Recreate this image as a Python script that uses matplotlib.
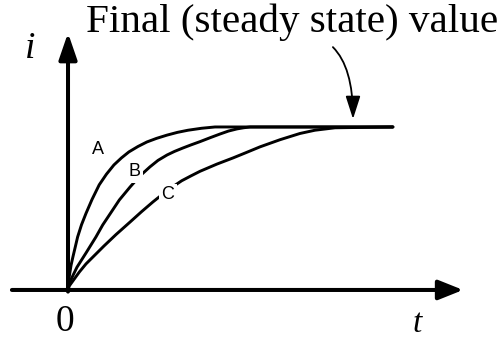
import numpy as np
import matplotlib.pyplot as plt

# curve A (fastest), B, C (slowest): time vs current
t_a = [0, 0.04, 0.1, 0.16, 0.25, 0.32, 0.45, 0.6, 0.8, 1.04, 1.28, 1.53, 1.78, 2.03,
       2.33, 2.63, 2.95, 3.3, 3.65, 4.0, 4.45, 4.9, 10.83]
i_a = [0, 0.08, 0.15, 0.20, 0.27, 0.325, 0.40, 0.47, 0.555, 0.645, 0.71, 0.767, 0.81, 0.847,
       0.88, 0.908, 0.93, 0.95, 0.967, 0.98, 0.992, 1.0, 1.0]

t_b = [0, 0.043, 0.3, 0.6, 0.93, 1.157, 1.45, 1.71, 2.07, 2.4, 2.73, 3.0, 3.3, 3.55, 3.83,
       4.1, 4.4, 4.75, 5.07, 5.35, 5.63, 5.85, 6.07, 10.83]
i_b = [0, 0.043, 0.14, 0.227, 0.325, 0.399, 0.48, 0.552, 0.632, 0.70, 0.755, 0.795, 0.828, 0.85, 0.871,
       0.89, 0.91, 0.935, 0.957, 0.975, 0.988, 0.995, 1.0, 1.0]

t_c = [0, 0.043, 0.2, 0.377, 0.6, 0.9, 1.2, 1.6, 2.07, 2.45, 2.83, 3.0, 3.4, 3.79, 4.1, 4.4,
       4.96, 5.5, 5.9, 6.4, 7.07, 7.73, 8.23, 8.9, 10.83]
i_c = [0, 0.025, 0.065, 0.11, 0.16, 0.215, 0.27, 0.34, 0.417, 0.48, 0.54, 0.565, 0.622, 0.67, 0.70, 0.728,
       0.772, 0.81, 0.84, 0.878, 0.922, 0.96, 0.98, 0.995, 1.0]

labels = ['A', 'B', 'C']
label_pos = [(1.0, 0.859), (2.23, 0.724), (3.33, 0.583)]

fig = plt.figure(figsize=(5, 3.4), dpi=100)
ax = fig.add_axes([0, 0, 1, 1])
ax.set_xlim(-2.267, 14.4)
ax.set_ylim(-0.307, 1.779)
ax.axis('off')

for t, i in [(t_a, i_a), (t_b, i_b), (t_c, i_c)]:
    ax.plot(t, i, color='black', lw=2.1, solid_capstyle='round', solid_joinstyle='round', zorder=2)

for lab, (x, y) in zip(labels, label_pos):
    ax.text(x, y, lab, fontsize=13, family='Liberation Sans', ha='center', va='center',
            bbox=dict(facecolor='white', edgecolor='none', pad=1.5), zorder=3)

# axes with arrow heads
ax.annotate('', xy=(13.17, 0), xytext=(-1.87, 0),
            arrowprops=dict(arrowstyle='-|>,head_length=1.5,head_width=0.6', mutation_scale=10,
                            lw=2.9, color='black', shrinkA=0, shrinkB=0))
ax.annotate('', xy=(0, 1.577), xytext=(0, -0.01),
            arrowprops=dict(arrowstyle='-|>,head_length=1.6,head_width=0.55', mutation_scale=10,
                            lw=2.9, color='black', shrinkA=0, shrinkB=0))

serif = 'Liberation Serif'
ax.text(-1.27, 1.479, 'i', fontsize=27, family=serif, style='italic', ha='center', va='center')
ax.text(-0.1, -0.196, '0', fontsize=27, family=serif, ha='center', va='center')
ax.text(11.63, -0.255, 't', fontsize=24, family=serif, style='italic', ha='center', va='baseline')

ax.text(0.6, 1.583, 'Final (steady state) value', fontsize=29.6, family=serif,
        ha='left', va='baseline')
ax.annotate('', xy=(9.5, 1.049), xytext=(8.83, 1.49),
            arrowprops=dict(arrowstyle='-|>,head_length=1.4,head_width=0.45', mutation_scale=10,
                            lw=1.3, color='black', shrinkA=0, shrinkB=0,
                            connectionstyle='angle3,angleA=-45,angleB=90'))

fig.savefig('out.png', dpi=100)
